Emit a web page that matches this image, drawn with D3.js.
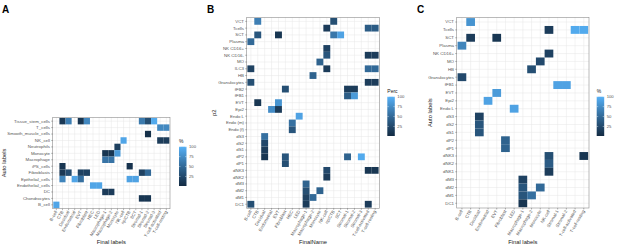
<!DOCTYPE html>
<html><head><meta charset="utf-8">
<script src="https://cdn.jsdelivr.net/npm/d3@7"></script>
<style>body{margin:0;background:#fff}svg{display:block;font-family:"Liberation Sans",Arial,sans-serif}</style>
</head><body><svg id="c" width="617" height="248"></svg>
<script>
// ---------- DATA ----------
const finalLabelsAB = ["B-cell","CTB","Decidual","Endometrial","EVT","Fibroblast","HEC","LED","Macrophage-1","Macrophage-2","Monocyte","NK-cell","npiCTB","SCT","Stromal-1","Stromal-2","Stromal-3","T-cell-activated","T-cell-resting"];
const finalLabelsC = ["B-cell","CTB","Decidual","Endometrial","EVT","Fibroblast","LED","Macrophage-1","Macrophage-2","Monocyte","NK-cell","Stromal-1","Stromal-2","T-cell-activated","T-cell-resting"];
const autoLabelsA = ["Tissue_stem_cells","T_cells","Smooth_muscle_cells","NK_cell","Neutrophils","Monocyte","Macrophage","iPS_cells","Fibroblasts","Epithelial_cells","Endothelial_cells","DC","Chondrocytes","B_cell"];
const p2LabelsB = ["VCT","Tcells","SCT","Plasma","NK CD16+","NK CD16-","MO","ILC3","HB","Granulocytes","fFB2","fFB1","EVT","Epi2","Endo L","Endo (m)","Endo (f)","dS3","dS2","dS1","dP2","dP1","dNK3","dNK2","dM3","dM2","dM1","DC1"];
const autoLabelsC = ["VCT","Tcells","SCT","Plasma","NK CD16+","MO","HB","Granulocytes","fFB1","EVT","Epi2","Endo L","dS3","dS2","dS1","dP2","dP1","dNK3","dNK2","dNK1","dM3","dM2","dM1","DC1"];
const legendTicks = [25,50,75,100];

const cellsA = [
 ["Tissue_stem_cells","CTB",12],["Tissue_stem_cells","Decidual",65],["Tissue_stem_cells","EVT",10],["Tissue_stem_cells","Fibroblast",72],
 ["Tissue_stem_cells","Stromal-1",62],["Tissue_stem_cells","Stromal-2",30],["Tissue_stem_cells","Stromal-3",95],
 ["T_cells","T-cell-activated",72],["T_cells","T-cell-resting",72],
 ["Smooth_muscle_cells","Stromal-2",5],
 ["NK_cell","NK-cell",92],["NK_cell","T-cell-activated",15],["NK_cell","T-cell-resting",15],
 ["Neutrophils","Monocyte",18],
 ["Monocyte","Macrophage-1",10],["Monocyte","Macrophage-2",10],["Monocyte","Monocyte",85],
 ["Macrophage","Macrophage-1",58],["Macrophage","Macrophage-2",58],
 ["iPS_cells","CTB",10],["iPS_cells","npiCTB",8],
 ["Fibroblasts","CTB",12],["Fibroblasts","Decidual",28],["Fibroblasts","EVT",20],["Fibroblasts","Fibroblast",20],["Fibroblasts","Stromal-1",20],["Fibroblasts","Stromal-2",50],
 ["Epithelial_cells","CTB",70],["Epithelial_cells","Endometrial",92],["Epithelial_cells","EVT",55],["Epithelial_cells","npiCTB",90],["Epithelial_cells","SCT",90],
 ["Endothelial_cells","HEC",92],["Endothelial_cells","LED",92],
 ["DC","Macrophage-1",15],["DC","Macrophage-2",15],
 ["Chondrocytes","Stromal-1",10],["Chondrocytes","Stromal-2",10],
 ["B_cell","B-cell",92]
];
const cellsB = [
 ["VCT","CTB",65],["VCT","npiCTB",30],
 ["Tcells","NK-cell",15],["Tcells","T-cell-activated",40],["Tcells","T-cell-resting",40],
 ["SCT","CTB",35],["SCT","EVT",10],["SCT","npiCTB",60],["SCT","SCT",90],
 ["Plasma","B-cell",50],
 ["NK CD16+","NK-cell",20],
 ["NK CD16-","NK-cell",35],["NK CD16-","T-cell-activated",15],["NK CD16-","T-cell-resting",15],
 ["MO","Monocyte",45],
 ["ILC3","B-cell",20],["ILC3","NK-cell",15],["ILC3","T-cell-activated",50],["ILC3","T-cell-resting",50],
 ["HB","Macrophage-2",45],
 ["Granulocytes","B-cell",30],["Granulocytes","T-cell-activated",15],["Granulocytes","T-cell-resting",15],
 ["fFB2","Fibroblast",30],["fFB2","Stromal-1",15],["fFB2","Stromal-2",15],
 ["fFB1","Stromal-1",40],["fFB1","Stromal-2",85],
 ["EVT","CTB",10],["EVT","EVT",80],
 ["Epi2","Endometrial",75],["Epi2","EVT",15],
 ["Endo L","LED",90],
 ["Endo (m)","HEC",55],
 ["Endo (f)","HEC",35],
 ["dS3","Decidual",55],["dS2","Decidual",25],["dS1","Decidual",15],
 ["dP2","Decidual",10],["dP2","Fibroblast",35],["dP2","Stromal-1",45],["dP2","Stromal-3",95],
 ["dP1","Fibroblast",30],
 ["dNK3","NK-cell",25],["dNK3","T-cell-activated",10],["dNK3","T-cell-resting",10],
 ["dNK2","NK-cell",15],
 ["dM3","Macrophage-1",45],
 ["dM2","Macrophage-1",30],["dM2","Monocyte",45],
 ["dM1","Macrophage-1",20],["dM1","Macrophage-2",50],
 ["DC1","B-cell",30],["DC1","Macrophage-1",15],["DC1","T-cell-activated",15]
];
const cellsC = [
 ["VCT","CTB",80],
 ["Tcells","NK-cell",15],["Tcells","T-cell-activated",95],["Tcells","T-cell-resting",95],
 ["SCT","CTB",15],["SCT","EVT",10],
 ["Plasma","B-cell",70],
 ["NK CD16+","NK-cell",20],
 ["MO","Monocyte",25],
 ["HB","Macrophage-2",30],
 ["Granulocytes","B-cell",25],
 ["fFB1","Stromal-1",90],["fFB1","Stromal-2",90],
 ["EVT","EVT",85],
 ["Epi2","Endometrial",90],
 ["Endo L","LED",90],
 ["dS3","Decidual",20],["dS2","Decidual",35],["dS1","Decidual",35],
 ["dP2","Fibroblast",45],["dP1","Fibroblast",45],
 ["dNK3","NK-cell",30],["dNK3","T-cell-resting",10],
 ["dNK2","NK-cell",40],["dNK1","NK-cell",15],
 ["dM3","Macrophage-1",20],
 ["dM2","Macrophage-1",35],["dM2","Monocyte",50],
 ["dM1","Macrophage-1",35],["dM1","Macrophage-2",55],
 ["DC1","Macrophage-1",10]
];

// ---------- DRAW ----------
const svg = d3.select("#c");
const color = d3.scaleSequential(d3.interpolateLab("#132B43","#56B1F7")).domain([1,100]);
const defs = svg.append("defs");
const grad = defs.append("linearGradient").attr("id","g").attr("x1",0).attr("y1",1).attr("x2",0).attr("y2",0);
d3.range(0,1.0001,0.1).forEach(t=>grad.append("stop").attr("offset",t).attr("stop-color",color(1+99*t)));

function panel(cfg){
  const g = svg.append("g");
  const x = d3.scaleBand().domain(cfg.cols).range([cfg.x0,cfg.x1]).paddingInner(0).paddingOuter(0.1);
  const y = d3.scaleBand().domain(cfg.rows).range([cfg.y0,cfg.y1]).paddingInner(0).paddingOuter(0.1);
  g.append("rect").attr("x",cfg.x0).attr("y",cfg.y0).attr("width",cfg.x1-cfg.x0).attr("height",cfg.y1-cfg.y0).attr("fill","#fff");
  g.selectAll(".gx").data(cfg.cols).join("line").attr("x1",d=>x(d)+x.bandwidth()/2).attr("x2",d=>x(d)+x.bandwidth()/2)
    .attr("y1",cfg.y0).attr("y2",cfg.y1).attr("stroke","#e6e6e6").attr("stroke-width",0.5);
  g.selectAll(".gy").data(cfg.rows).join("line").attr("y1",d=>y(d)+y.bandwidth()/2).attr("y2",d=>y(d)+y.bandwidth()/2)
    .attr("x1",cfg.x0).attr("x2",cfg.x1).attr("stroke","#e6e6e6").attr("stroke-width",0.5);
  g.selectAll(".cell").data(cfg.cells).join("rect")
    .attr("x",d=>x(d[1])).attr("y",d=>y(d[0])).attr("width",x.bandwidth()).attr("height",y.bandwidth())
    .attr("fill",d=>color(d[2]));
  g.append("rect").attr("x",cfg.x0).attr("y",cfg.y0).attr("width",cfg.x1-cfg.x0).attr("height",cfg.y1-cfg.y0)
    .attr("fill","none").attr("stroke","#8c8c8c").attr("stroke-width",0.6);
  // y axis
  const ya = g.append("g").attr("transform",`translate(${cfg.x0},0)`).call(d3.axisLeft(y).tickSize(1.5).tickPadding(1.2));
  ya.select(".domain").remove();
  ya.selectAll("line").attr("stroke","#444").attr("stroke-width",0.4);
  ya.selectAll("text").attr("font-size",4.4).attr("fill","#555").attr("font-family",null);
  // x axis
  const xa = g.append("g").attr("transform",`translate(0,${cfg.y1})`).call(d3.axisBottom(x).tickSize(1.5).tickPadding(1.5));
  xa.select(".domain").remove();
  xa.selectAll("line").attr("stroke","#444").attr("stroke-width",0.4);
  xa.selectAll("text").attr("font-size",4.4).attr("fill","#555").attr("font-family",null)
    .attr("text-anchor","end").attr("dy","0.3em").attr("y",2.5)
    .attr("transform","rotate(-60,0,2.5)");
  // titles
  svg.append("text").attr("x",cfg.letterX).attr("y",13).attr("font-size",10).attr("font-weight","bold").text(cfg.letter);
  svg.append("text").attr("x",(cfg.x0+cfg.x1)/2).attr("y",244).attr("text-anchor","middle").attr("font-size",5.8).attr("fill","#222").text(cfg.xTitle);
  const yc=(cfg.y0+cfg.y1)/2;
  svg.append("text").attr("transform",`translate(${cfg.yTitleX},${yc}) rotate(-90)`).attr("text-anchor","middle").attr("font-size",5.8).attr("fill","#222").text(cfg.yTitle);
  // legend
  const L = cfg.leg;
  const ls = d3.scaleLinear().domain([1,100]).range([L.y1,L.y0]);
  svg.append("text").attr("x",L.x).attr("y",L.y0-4).attr("font-size",5).attr("fill","#222").text(cfg.legTitle);
  svg.append("rect").attr("x",L.x).attr("y",L.y0).attr("width",7.5).attr("height",L.y1-L.y0).attr("fill","url(#g)");
  legendTicks.forEach(v=>{
    svg.append("line").attr("x1",L.x).attr("x2",L.x+1.5).attr("y1",ls(v)).attr("y2",ls(v)).attr("stroke","#fff").attr("stroke-width",0.4);
    svg.append("line").attr("x1",L.x+6).attr("x2",L.x+7.5).attr("y1",ls(v)).attr("y2",ls(v)).attr("stroke","#fff").attr("stroke-width",0.4);
    svg.append("text").attr("x",L.x+10).attr("y",ls(v)).attr("dy","0.35em").attr("font-size",4.2).attr("fill","#555").text(v);
  });
}

panel({letter:"A",letterX:2,cols:finalLabelsAB,rows:autoLabelsA,cells:cellsA,x0:52.7,x1:170,y0:117.3,y1:208.7,
  xTitle:"Final labels",yTitle:"Auto labels",yTitleX:6,legTitle:"%",leg:{x:179,y0:146.7,y1:186}});
panel({letter:"B",letterX:207,cols:finalLabelsAB,rows:p2LabelsB,cells:cellsB,x0:246.7,x1:379.3,y0:17.3,y1:208.3,
  xTitle:"FinalName",yTitle:"p2",yTitleX:216,legTitle:"Perc",leg:{x:387.3,y0:96.7,y1:136}});
panel({letter:"C",letterX:417,cols:finalLabelsC,rows:autoLabelsC,cells:cellsC,x0:456.7,x1:589,y0:17.3,y1:208,
  xTitle:"Final labels",yTitle:"Auto labels",yTitleX:432,legTitle:"%",leg:{x:596.7,y0:96.7,y1:136}});
</script></body></html>
